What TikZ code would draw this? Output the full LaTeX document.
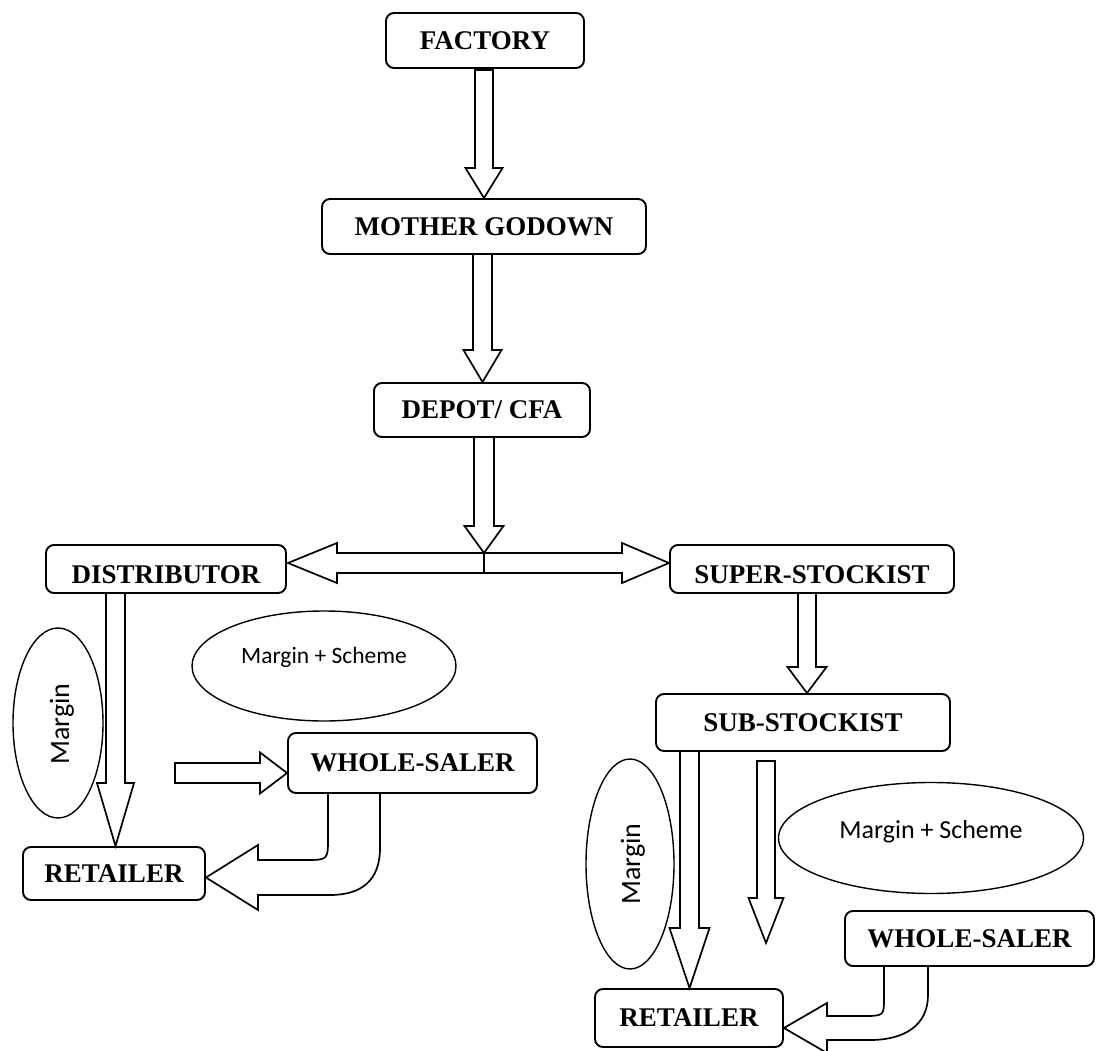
\documentclass[tikz,border=0pt]{standalone}
\usepackage{fontspec}
\usetikzlibrary{shapes.geometric,calc}
\newfontfamily\calib{Carlito}
\newfontfamily\serf{Liberation Serif}
\newcommand\palb{\serf\bfseries\fontsize{27}{31}\selectfont}
\newcommand\blkdown[5]{%
  \draw[blk] ($(#1)+(-#3,0)$) -- ($(#1|-#2)+(-#3,-#5)$) -- ($(#1|-#2)+(-#4,-#5)$) -- (#1|-#2)
    -- ($(#1|-#2)+(#4,-#5)$) -- ($(#1|-#2)+(#3,-#5)$) -- ($(#1)+(#3,0)$) -- cycle;}
\newcommand\blkright[5]{%
  \draw[blk] ($(#1)+(0,-#3)$) -- ($(#1-|#2)+(-#5,-#3)$) -- ($(#1-|#2)+(-#5,-#4)$) -- (#1-|#2)
    -- ($(#1-|#2)+(-#5,#4)$) -- ($(#1-|#2)+(-#5,#3)$) -- ($(#1)+(0,#3)$) -- cycle;}
\tikzset{
  box/.style={draw, line width=1.9pt, rounded corners=8pt, inner sep=0pt, font=\palb,
    text height=17.9pt, text depth=0pt, align=center},
  lowtext/.style={text height=28.9pt},
  blk/.style={draw, line width=1.7pt, fill=white, line join=miter},
  ell/.style={draw, ellipse, line width=1.4pt, inner sep=0pt},
  mtxt/.style={inner sep=0pt, font=\calib\fontsize{23.5}{28}\selectfont},
  mtxtR/.style={inner sep=0pt, font=\calib\fontsize{26}{30}\selectfont},
  mtxtV/.style={inner sep=0pt, font=\calib\fontsize{28}{32}\selectfont, rotate=90},
}
\begin{document}
\begin{tikzpicture}[x=1pt,y=-1pt]
\useasboundingbox[fill=white] (0,0) rectangle (1096,1051);

% boxes
\node[box, minimum width=198pt, minimum height=55pt] (factory) at (485,40.5) {FACTORY};
\node[box, minimum width=324pt, minimum height=55pt] (mother) at (484,226.5) {MOTHER GODOWN};
\node[box, minimum width=216pt, minimum height=54pt] (depot) at (482,410) {DEPOT/ CFA};
\node[box, lowtext, minimum width=240pt, minimum height=48pt] (dist) at (166,569) {DISTRIBUTOR};
\node[box, lowtext, minimum width=284pt, minimum height=48pt] (super) at (812,569) {SUPER-STOCKIST};
\node[box, minimum width=294pt, minimum height=57pt] (sub) at (803,722.5) {SUB-STOCKIST};
\node[box, minimum width=249pt, minimum height=60pt] (wsL) at (412.5,763) {WHOLE-SALER};
\node[box, minimum width=182pt, minimum height=53pt] (retL) at (114,873.5) {RETAILER};
\node[box, minimum width=249pt, minimum height=55pt] (wsR) at (969.5,938.5) {WHOLE-SALER};
\node[box, minimum width=188pt, minimum height=58pt] (retR) at (689,1018) {RETAILER};

% arrow anchors
\coordinate (f1) at (484,70);
\coordinate (f2) at (482.5,254);
\coordinate (f3) at (484,437);
\coordinate (jn) at (484,553);
\coordinate (jb) at (484,573);
\coordinate (dL) at (288,563);
\coordinate (dR) at (669,563);
\coordinate (f5) at (115.5,593);
\coordinate (f6) at (175,773);
\coordinate (f8) at (807,593);
\coordinate (f9) at (689.5,751);
\coordinate (f10) at (766,761);
\coordinate (t10) at (766,943);

% straight block arrows
\blkdown{f1}{mother.north}{9}{18.5}{30}
\blkdown{f2}{depot.north}{9.5}{19}{32}
\blkdown{f3}{jn}{10}{19.5}{27}
\draw[blk] (dL) -- (337,543) -- (337,553) -- (622,553) -- (622,543) -- (dR)
  -- (622,583) -- (622,573) -- (337,573) -- (337,583) -- cycle;
\draw[line width=1.7pt] (jn) -- (jb);
\blkdown{f5}{retL.north}{9.5}{18.5}{63}
\blkright{f6}{wsL.west}{10}{20.5}{27}
\blkdown{f8}{sub.north}{9}{19.5}{26}
\blkdown{f9}{retR.north}{9.5}{20}{60}
\blkdown{f10}{t10}{9}{17.5}{45}

% curved block arrows
\coordinate (cL1) at (328,793);
\coordinate (cL2) at (380,793);
\draw[blk] (cL1) -- (328,838) .. controls (328,860) .. (305,860) -- (258,860) -- (258,845)
  -- (retL.east |- 0,877.5) -- (258,910) -- (258,895) -- (330,895)
  .. controls (362,895) and (380,880) .. (380,848) -- (cL2) -- cycle;
\coordinate (cR1) at (884,966);
\coordinate (cR2) at (928,966);
\draw[blk] (cR1) -- (884,998) .. controls (884,1016) .. (862,1016) -- (827,1016) -- (827,1003)
  -- (retR.east |- 0,1028) -- (827,1053) -- (827,1040) -- (870,1040)
  .. controls (905,1040) and (928,1025) .. (928,995) -- (cR2) -- cycle;

% ellipses
\node[ell, minimum width=90pt, minimum height=190pt] (margL) at (58,723) {};
\node[mtxtV] (margLt) at (62,724) {Margin};
\node[ell, minimum width=264pt, minimum height=110pt] (msL) at (324,666) {};
\node[mtxt] (msLt) at (324,657) {Margin + Scheme};
\node[ell, minimum width=88pt, minimum height=210pt] (margR) at (630,864) {};
\node[mtxtV] (margRt) at (633,864) {Margin};
\node[ell, minimum width=305pt, minimum height=111pt] (msR) at (931,838) {};
\node[mtxtR] (msRt) at (931,832) {Margin + Scheme};
\end{tikzpicture}
\end{document}
